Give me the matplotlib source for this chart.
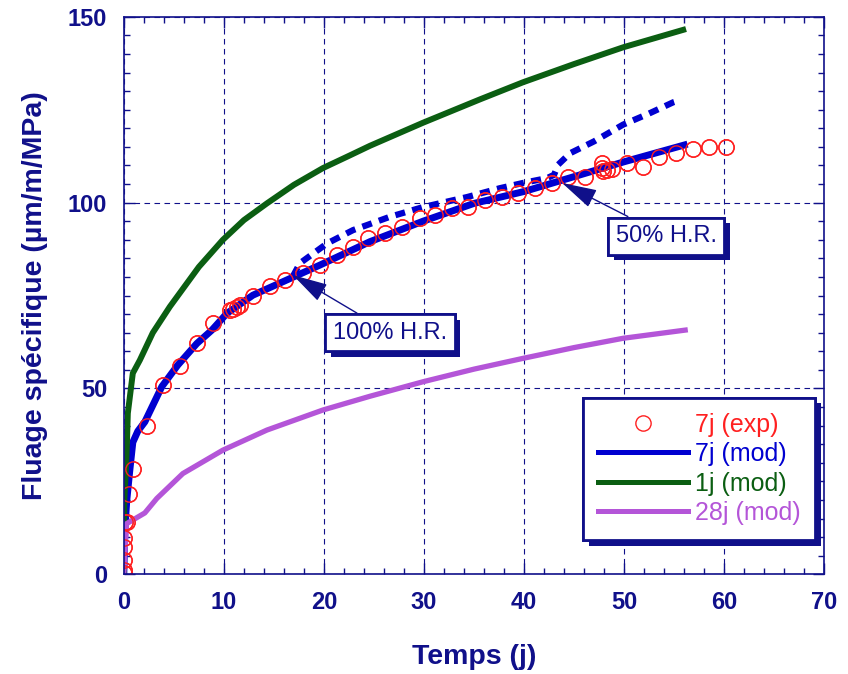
import matplotlib
matplotlib.use("Agg")
import matplotlib.pyplot as plt
import matplotlib.patheffects as pe
from matplotlib.ticker import MultipleLocator

plt.rcParams['font.family'] = ['Liberation Sans', 'DejaVu Sans']

# 7j experimental points
t_exp = [0, 0, 0, 0, 0.05, 0.1, 0.3, 0.5, 0.9, 2.3, 3.9, 5.6, 7.3, 8.9, 10.6, 10.9, 11.3, 11.6,
         12.9, 14.6, 16.1, 17.9, 19.6, 21.3, 22.9, 24.4, 26.1, 27.8, 29.6, 31.1, 32.8, 34.4,
         36.1, 37.8, 39.4, 41.1, 42.8, 44.4, 46.1, 47.8, 47.8, 47.9, 48.3, 48.8, 50.3, 51.9,
         53.5, 55.2, 56.9, 58.5, 60.2]
c_exp = [0.3, 1.2, 3.8, 7.3, 9.7, 14, 14, 21.5, 28.3, 39.9, 50.9, 56, 62.2, 67.6, 71.1, 71.5, 72, 72.4,
         74.9, 77.5, 79.2, 81, 83.2, 85.9, 88.1, 90.5, 91.8, 93.5, 95.8, 96.7, 98.6, 98.9,
         100.7, 101.6, 102.6, 104, 105.3, 106.9, 106.9, 110.7, 109.3, 108.5, 108.8, 109, 110.7, 109.6,
         112.3, 113.3, 114.5, 115, 115]

# 7j model
t_7j = [0, 0.1, 0.3, 0.6, 0.9, 1.4, 2.1, 3.8, 5.4, 7.3, 8.8, 10.3, 12.9, 16.3, 19.6, 24.6, 29.9, 35, 40, 45, 50, 56]
c_7j = [0, 12, 20, 28, 35.5, 38.5, 41, 50.5, 56.3, 62.1, 65.7, 70.2, 75.1, 79.2, 83.2, 89.5, 95, 99.8, 103, 107, 111, 115.5]

# 7j model with humidity changes
t_7j_hr = [16.9, 17.6, 20.3, 22.9, 26.6, 29.9, 34.3, 37.6, 39.9, 42.3, 43.0, 43.4, 44.6, 47, 49.9, 52.5, 54.9, 55.6]
c_7j_hr = [80.2, 83.7, 89, 92.6, 96.2, 98.8, 101.5, 103.9, 105.3, 106.6, 107.5, 110.2, 113.3, 116.5, 121, 124, 127, 127.6]

# 1j model
t_1j = [0, 0.05, 0.27, 0.4, 0.9, 1.6, 2.9, 4.6, 7.5, 9.9, 12, 14.3, 17, 19.9, 22.5, 24.6, 29.9, 35.6, 39.9, 45, 49.9, 55.9]
c_1j = [0, 20, 31.6, 43.3, 54.1, 57.6, 65, 72, 82.7, 90, 95.3, 99.8, 104.8, 109.3, 112.6, 115.3, 121.5, 127.8, 132.4, 137.3, 141.8, 146.5]

# 28j model
t_28j = [0, 0.1, 0.27, 2.1, 3.3, 5.9, 9.9, 14.3, 19.9, 24.6, 29.9, 35, 39.9, 45, 49.9, 56.1]
c_28j = [0, 5, 13.6, 16.5, 20.4, 27.1, 33.4, 38.8, 44.2, 47.9, 51.8, 55.2, 58.1, 61, 63.5, 65.7]

x_ticks = [0, 10, 20, 30, 40, 50, 60, 70]
y_ticks = [0, 50, 100, 150]

navy = '#10108a'
blue = '#0000d0'
green = '#0b5e12'
purple = '#b455d8'
red = '#ff2020'

fig = plt.figure(figsize=(8.48, 6.74), dpi=100)
ax = fig.add_axes([0.146, 0.148, 0.826, 0.827])

ax.plot(t_7j_hr, c_7j_hr, color=blue, lw=4.5, linestyle=(0, (1.6, 1.2)))
l_exp, = ax.plot(t_exp, c_exp, 'o', mfc='none', mec=red, ms=11, mew=1, label='7j (exp)')
l_7j, = ax.plot(t_7j, c_7j, color=blue, lw=5, label='7j (mod)')
l_1j, = ax.plot(t_1j, c_1j, color=green, lw=4.3, label='1j (mod)')
l_28j, = ax.plot(t_28j, c_28j, color=purple, lw=3.8, label='28j (mod)')
ax.plot(t_exp, c_exp, 'o', mfc='none', mec=red, ms=11, mew=1)

ax.set_xlim(0, 70)
ax.set_ylim(0, 150)
ax.set_xticks(x_ticks)
ax.set_xticklabels([str(v) for v in x_ticks], fontweight='bold', color=navy)
ax.set_yticks(y_ticks)
ax.set_yticklabels([str(v) for v in y_ticks], fontweight='bold', color=navy)
ax.xaxis.set_minor_locator(MultipleLocator(2))
ax.yaxis.set_minor_locator(MultipleLocator(5))
ax.tick_params(which='both', direction='in', top=True, right=True, colors=navy)
ax.tick_params(which='major', length=8, width=1, labelsize=17, pad=12)
ax.tick_params(which='minor', length=4, width=1)
for s in ax.spines.values():
    s.set_color(navy)
    s.set_linewidth(1.2)
ax.grid(True, which='major', color=navy, linestyle=(0, (5, 4)), linewidth=0.8)

ax.set_xlabel('Temps (j)', fontsize=20.5, fontweight='bold', color=navy, labelpad=22)
ax.set_ylabel('Fluage spécifique (µm/m/MPa)', fontsize=20.5, fontweight='bold', color=navy, labelpad=14)

shadow = [pe.withSimplePatchShadow(offset=(4, -4), shadow_rgbFace=navy, alpha=1.0), pe.Normal()]
arrow = dict(arrowstyle='-|>,head_length=1.1,head_width=0.3', color=navy, lw=1, mutation_scale=20,
             shrinkA=0, shrinkB=0)
box = dict(boxstyle='square,pad=0.32', fc='white', ec=navy, lw=2)

a1 = ax.annotate('100% H.R.', xy=(16.9, 80.5), xytext=(26.6, 65), fontsize=17, color=navy,
                 ha='center', va='center', bbox=box, arrowprops=arrow)
a2 = ax.annotate('50% H.R.', xy=(43.8, 105.3), xytext=(54.2, 91), fontsize=17, color=navy,
                 ha='center', va='center', bbox=box, arrowprops=arrow)
for a in (a1, a2):
    a.get_bbox_patch().set_path_effects(shadow)

leg = ax.legend(handles=[l_exp, l_7j, l_1j, l_28j], loc='lower right', bbox_to_anchor=(0.987, 0.061),
                borderaxespad=0, fontsize=18, numpoints=1, handlelength=3.6, handletextpad=0.25,
                labelspacing=0.22, borderpad=0.6, fancybox=False, framealpha=1, edgecolor=navy)
leg.get_frame().set_linewidth(2)
leg.get_frame().set_path_effects(shadow)
for txt, c in zip(leg.get_texts(), [red, blue, green, purple]):
    txt.set_color(c)
for h in leg.legend_handles[1:]:
    h.set_linewidth(3.6)

fig.savefig('out.png', dpi=100)
